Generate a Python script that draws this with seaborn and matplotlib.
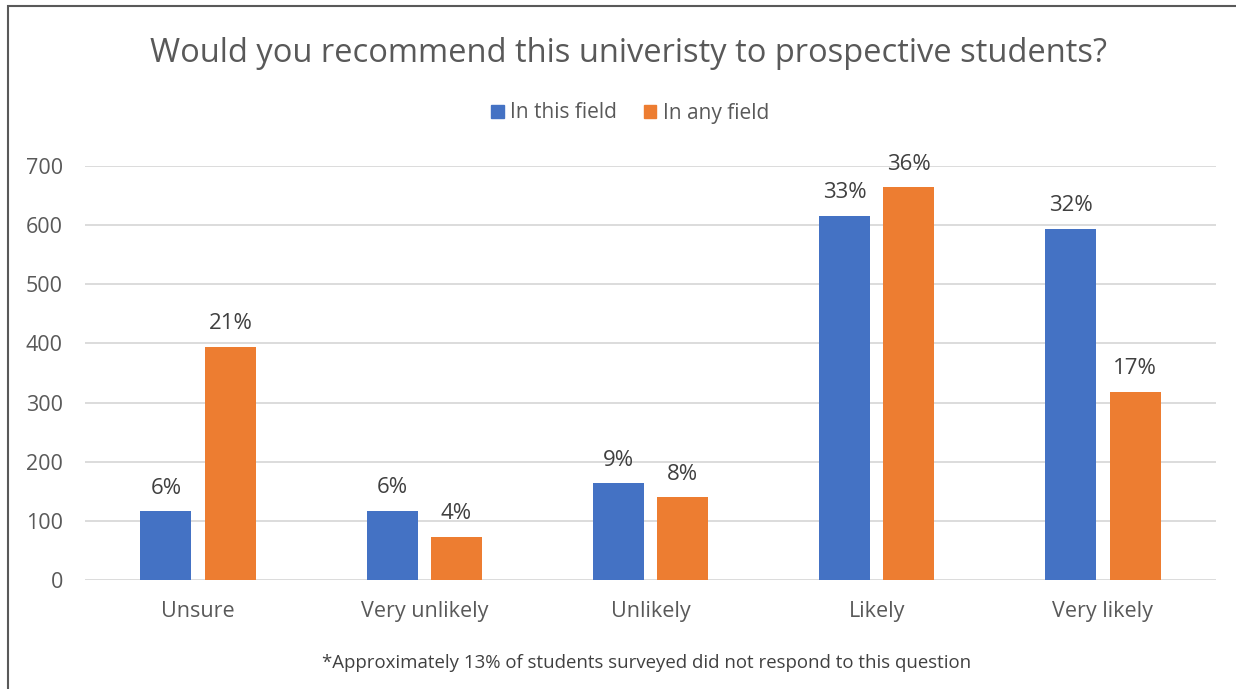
import matplotlib
matplotlib.use("Agg")
import matplotlib.pyplot as plt
import seaborn as sns
import pandas as pd
from matplotlib.patches import Rectangle

# Survey responses
categories = ["Unsure", "Very unlikely", "Unlikely", "Likely", "Very likely"]
series_names = ["In this field", "In any field"]
this_field = [116, 117, 164, 616, 594]
any_field = [394, 73, 140, 664, 318]
this_field_pct = ["6%", "6%", "9%", "33%", "32%"]
any_field_pct = ["21%", "4%", "8%", "36%", "17%"]
y_ticks = [0, 100, 200, 300, 400, 500, 600, 700]

df = pd.DataFrame({
    "category": categories * 2,
    "series": [series_names[0]] * len(categories) + [series_names[1]] * len(categories),
    "count": this_field + any_field,
    "pct": this_field_pct + any_field_pct,
})

sns.set_theme(style="white")
plt.rcParams["font.family"] = ["Open Sans", "DejaVu Sans"]

W, H = 1236, 689
fig = plt.figure(figsize=(W / 100, H / 100), dpi=100)
ax = fig.add_axes([85 / W, 1 - 580 / H, (1216 - 85) / W, (580 - 166) / H])

palette = {series_names[0]: "#4472C4", series_names[1]: "#ED7D31"}
sns.barplot(data=df, x="category", y="count", hue="series", order=categories,
            hue_order=series_names, palette=palette, width=0.57, gap=0.21,
            saturation=1, ax=ax, legend=False, edgecolor="none", zorder=3)

ax.set_ylim(0, 700)
ax.set_xlim(-0.5, len(categories) - 0.5)
ax.set_yticks(y_ticks)
ax.yaxis.grid(True, color="#d9d9d9", linewidth=1.3, zorder=0)
ax.set_axisbelow(True)
for s in ax.spines.values():
    s.set_visible(False)
ax.set_xlabel("")
ax.set_ylabel("")
ax.tick_params(axis="both", length=0, labelsize=15.5, colors="#595959")
ax.tick_params(axis="x", pad=15)
ax.tick_params(axis="y", pad=16)

# Percentage labels above each bar
for container, labels in zip(ax.containers, [this_field_pct, any_field_pct]):
    ax.bar_label(container, labels=labels, padding=9, fontsize=16, color="#404040")

# Legend
handles = [Rectangle((0, 0), 1, 1, color=palette[n]) for n in series_names]
fig.legend(handles, series_names, loc="center", bbox_to_anchor=(630 / W, 1 - 113 / H),
           ncol=2, frameon=False, fontsize=15, labelcolor="#595959",
           handlelength=0.6, handleheight=0.6, handletextpad=0.3, columnspacing=1.3)

fig.text(628 / W, 1 - 53 / H, "Would you recommend this univeristy to prospective students?",
         ha="center", va="center", fontsize=23.5, color="#595959")
fig.text(647 / W, 1 - 663 / H,
         "*Approximately 13% of students surveyed did not respond to this question",
         ha="center", va="center", fontsize=13.4, color="#404040")

# Chart frame
fig.add_artist(Rectangle((8 / W, -0.05), 1.2, 1 - 6 / H + 0.05, transform=fig.transFigure,
                         fill=False, edgecolor="#595959", linewidth=1.5))

fig.savefig("out.png", dpi=100, facecolor="white")
